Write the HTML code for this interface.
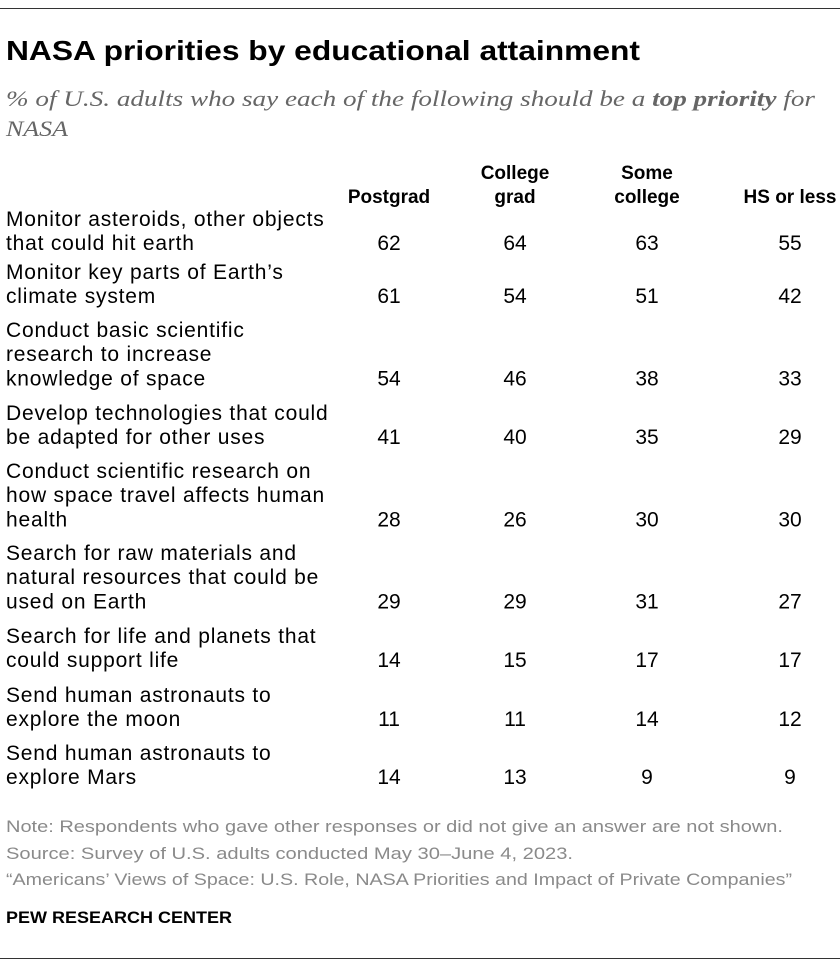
<!DOCTYPE html>
<html><head><meta charset="utf-8"><style>
html,body{margin:0;padding:0;background:#fff;}
svg{display:block;font-family:"Liberation Sans",Arial,sans-serif;}
</style></head><body>
<svg id="chart" width="840" height="968" viewBox="0 0 840 968">
<line x1="0" y1="8.5" x2="840" y2="8.5" stroke="#333" stroke-width="1"/>
<text x="6" y="60" font-size="28" font-weight="bold" fill="#000" textLength="634" lengthAdjust="spacingAndGlyphs">NASA priorities by educational attainment</text>
<text font-size="22" font-style="italic" fill="#666" font-family="Liberation Serif,serif"><tspan x="6" y="106" textLength="809" lengthAdjust="spacingAndGlyphs">% of U.S. adults who say each of the following should be a <tspan font-weight="bold">top priority</tspan> for</tspan><tspan x="6" y="136" textLength="62" lengthAdjust="spacingAndGlyphs">NASA</tspan></text>
<g id="headers" font-size="19" font-weight="bold" text-anchor="middle" fill="#000"></g>
<g id="rows" font-size="21" fill="#000"></g>
<g font-size="17" fill="#8a8a8a">
<text x="6" y="832" textLength="777" lengthAdjust="spacingAndGlyphs">Note: Respondents who gave other responses or did not give an answer are not shown.</text>
<text x="6" y="859" textLength="567" lengthAdjust="spacingAndGlyphs">Source: Survey of U.S. adults conducted May 30–June 4, 2023.</text>
<text x="6" y="885" textLength="786" lengthAdjust="spacingAndGlyphs">“Americans’ Views of Space: U.S. Role, NASA Priorities and Impact of Private Companies”</text>
</g>
<text x="6" y="923" font-size="17" font-weight="bold" fill="#000" textLength="226" lengthAdjust="spacingAndGlyphs">PEW RESEARCH CENTER</text>
<line x1="0" y1="958.5" x2="840" y2="958.5" stroke="#333" stroke-width="1"/>
</svg>
<script>
const columns=[["Postgrad"],["College","grad"],["Some","college"],["HS or less"]];
const items=[
["Monitor asteroids, other objects","that could hit earth"],
["Monitor key parts of Earth’s","climate system"],
["Conduct basic scientific","research to increase","knowledge of space"],
["Develop technologies that could","be adapted for other uses"],
["Conduct scientific research on","how space travel affects human","health"],
["Search for raw materials and","natural resources that could be","used on Earth"],
["Search for life and planets that","could support life"],
["Send human astronauts to","explore the moon"],
["Send human astronauts to","explore Mars"]];
const postgrad=[62,61,54,41,28,29,14,11,14];
const collegeGrad=[64,54,46,40,26,29,15,11,13];
const someCollege=[63,51,38,35,30,31,17,14,9];
const hsOrLess=[55,42,33,29,30,27,17,12,9];
const series=[postgrad,collegeGrad,someCollege,hsOrLess];
const NS="http://www.w3.org/2000/svg";
const colX=[389,515,647,790];
const rowTop=[219,272,330,413,471,553,636,695,753];
const hg=document.getElementById('headers');
columns.forEach((c,i)=>{
  const t=document.createElementNS(NS,'text');
  t.setAttribute('x',colX[i]);
  
  
  c.forEach((line,j)=>{
    const s=document.createElementNS(NS,'tspan');
    s.setAttribute('x',colX[i]);
    s.setAttribute('y',203-(c.length-1-j)*24);
    s.textContent=line;t.appendChild(s);
  });
  hg.appendChild(t);
});
const rg=document.getElementById('rows');
const lh=24.2;
items.forEach((lines,r)=>{
  const y=rowTop[r]+7;
  const g=document.createElementNS(NS,'g');
  
  
  const t=document.createElementNS(NS,'text');
  t.setAttribute('letter-spacing','0.8');
  
  
  lines.forEach((l,j)=>{
    const s=document.createElementNS(NS,'tspan');
    s.setAttribute('x',6);s.setAttribute('y',y+j*lh);
    s.textContent=l;t.appendChild(s);
  });
  g.appendChild(t);
  const last=y+(lines.length-1)*lh;
  series.forEach((arr,c)=>{
    const v=document.createElementNS(NS,'text');
    v.setAttribute('x',colX[c]);v.setAttribute('y',last);
    v.setAttribute('text-anchor','middle');
    
    
    v.textContent=arr[r];g.appendChild(v);
  });
  rg.appendChild(g);
});
</script>
</body></html>
